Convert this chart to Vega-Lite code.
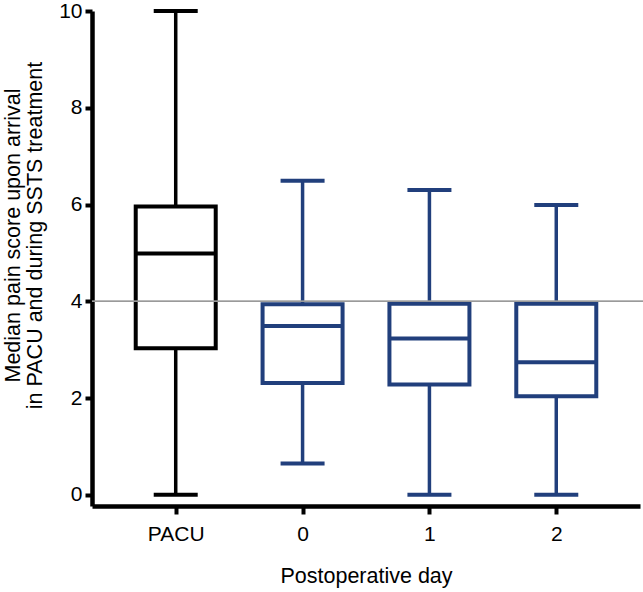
{
  "$schema": "https://vega.github.io/schema/vega-lite/v6.json",
  "width": 548,
  "height": 495,
  "autosize": {"type": "none"},
  "padding": {"left": 92, "top": 11, "right": 3, "bottom": 86},
  "background": "white",
  "config": {
    "view": {"stroke": null},
    "font": "Liberation Sans",
    "axis": {"grid": false, "domainColor": "black", "tickColor": "black", "labelColor": "black", "titleColor": "black", "labelFont": "Liberation Sans", "titleFont": "Liberation Sans", "titleFontWeight": "normal"},
    "tick": {"opacity": 1}
  },
  "data": {
    "values": [
      {"group": "PACU", "min": 0, "q1": 3.03, "median": 4.99, "q3": 5.96, "max": 10, "kind": "pacu"},
      {"group": "0", "min": 0.65, "q1": 2.31, "median": 3.49, "q3": 3.94, "max": 6.49, "kind": "day"},
      {"group": "1", "min": 0, "q1": 2.28, "median": 3.23, "q3": 3.95, "max": 6.3, "kind": "day"},
      {"group": "2", "min": 0, "q1": 2.04, "median": 2.74, "q3": 3.95, "max": 5.99, "kind": "day"}
    ]
  },
  "encoding": {
    "x": {
      "field": "group", "type": "ordinal", "sort": ["PACU", "0", "1", "2"],
      "scale": {"type": "point", "padding": 0.66},
      "axis": {"title": "Postoperative day", "labelAngle": 0, "labelFontSize": 21, "titleFontSize": 21.5, "domainWidth": 4.5, "tickWidth": 4, "tickSize": 8, "labelPadding": 9, "titlePadding": 21}
    },
    "color": {
      "field": "kind", "type": "nominal",
      "scale": {"domain": ["pacu", "day"], "range": ["#000000", "#213f7c"]},
      "legend": null
    }
  },
  "layer": [
    {
      "mark": {"type": "rule", "strokeWidth": 3.5},
      "encoding": {
        "y": {"field": "min", "type": "quantitative", "scale": {"domain": [-0.23, 10], "nice": false, "zero": false},
          "axis": {"title": ["Median pain score upon arrival", "in PACU and during SSTS treatment"], "values": [0, 2, 4, 6, 8, 10], "labelFontSize": 21, "titleFontSize": 21.5, "titleLineHeight": 22, "domainWidth": 4.5, "tickWidth": 4, "tickSize": 7, "labelPadding": 3, "titlePadding": 12, "titleY": 224}},
        "y2": {"field": "q1"}
      }
    },
    {
      "mark": {"type": "rule", "strokeWidth": 3.5},
      "encoding": {
        "y": {"field": "q3", "type": "quantitative"},
        "y2": {"field": "max"}
      }
    },
    {
      "mark": {"type": "bar", "size": 80, "fill": "white", "fillOpacity": 0, "strokeWidth": 4},
      "encoding": {
        "y": {"field": "q1", "type": "quantitative"},
        "y2": {"field": "q3"},
        "stroke": {"field": "kind", "type": "nominal", "scale": {"domain": ["pacu", "day"], "range": ["#000000", "#213f7c"]}, "legend": null}
      }
    },
    {
      "mark": {"type": "tick", "size": 82, "thickness": 4, "opacity": 1},
      "encoding": {"y": {"field": "median", "type": "quantitative"}}
    },
    {
      "mark": {"type": "tick", "size": 44, "thickness": 4, "opacity": 1},
      "encoding": {"y": {"field": "min", "type": "quantitative"}}
    },
    {
      "mark": {"type": "tick", "size": 44, "thickness": 4, "opacity": 1},
      "encoding": {"y": {"field": "max", "type": "quantitative"}}
    },
    {
      "mark": {"type": "rule", "color": "#9a9a9a", "strokeWidth": 1.2},
      "encoding": {"y": {"datum": 4}, "x": {"value": 0}, "x2": {"value": 551}, "color": {"value": "#9a9a9a"}}
    }
  ]
}
